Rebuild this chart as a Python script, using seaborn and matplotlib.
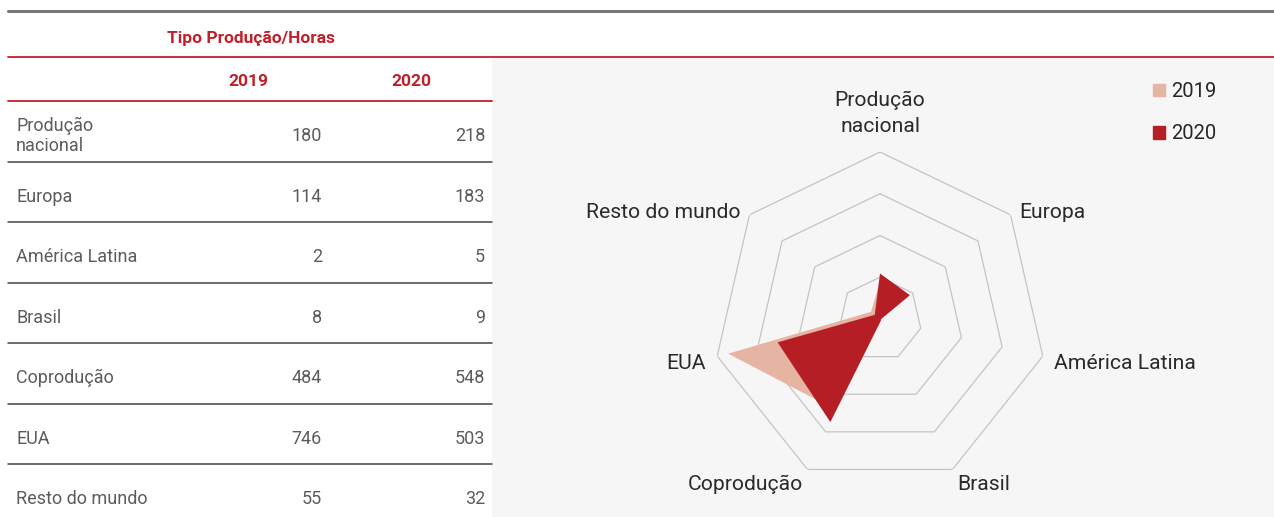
import numpy as np
import seaborn as sns
import matplotlib.pyplot as plt
from matplotlib.patches import Patch, Rectangle
from matplotlib.transforms import ScaledTranslation

# Data
categories = ['Produção\nnacional', 'Europa', 'América Latina', 'Brasil',
              'Coprodução', 'EUA', 'Resto do mundo']
years = ['2019', '2020']
hours_2019 = [180, 114, 2, 8, 484, 746, 55]
hours_2020 = [218, 183, 5, 9, 548, 503, 32]
ring_levels = [200, 400, 600, 800]

# Style
sns.set_theme(style='white')
plt.rcParams['font.family'] = ['Roboto', 'DejaVu Sans']
palette = {'2019': '#e6b4a3', '2020': '#b51e25'}
red = '#c0202b'
grey_txt = '#5c5c5c'

W, H = 1274, 517
fig = plt.figure(figsize=(W / 100, H / 100), dpi=100)

# background axes in pixel coords for the table part
bg = fig.add_axes([0, 0, 1, 1])
bg.set_xlim(0, W)
bg.set_ylim(H, 0)
bg.axis('off')

bg.add_patch(Rectangle((492, 58), W - 492, H - 58, color='#f6f6f6', lw=0, zorder=0))
bg.plot([8, W], [11, 11], color='#777777', lw=2.2)
bg.plot([8, W], [57, 57], color=red, lw=1.3)
bg.plot([8, 492], [101, 101], color=red, lw=1.3)

bg.text(251, 38, 'Tipo Produção/Horas', color=red, fontsize=12.5, fontweight='bold',
        ha='center', va='center')
bg.text(248, 82, years[0], color=red, fontsize=12.5, fontweight='bold', ha='center', va='center')
bg.text(411, 82, years[1], color=red, fontsize=12.5, fontweight='bold', ha='center', va='center')

row_h = 60.5
for i, (cat, v19, v20) in enumerate(zip(categories, hours_2019, hours_2020)):
    y = 106 + row_h * (i + 0.5)
    bg.text(16, y, cat, color=grey_txt, fontsize=13, ha='left', va='center',
            linespacing=1.15)
    bg.text(322, y, str(v19), color=grey_txt, fontsize=13, ha='right', va='center')
    bg.text(485, y, str(v20), color=grey_txt, fontsize=13, ha='right', va='center')
    if i < len(categories) - 1:
        yl = 101 + row_h * (i + 1)
        bg.plot([8, 492], [yl, yl], color='#444444', lw=1.1)

# Radar chart
cx, cy, R = 880, 319, 167
ax = fig.add_axes([(cx - R) / W, (H - cy - R) / H, 2 * R / W, 2 * R / H], projection='polar')
ax.set_theta_offset(np.pi / 2)
ax.set_theta_direction(-1)
ax.set_ylim(0, 800)
ax.patch.set_visible(False)
ax.spines['polar'].set_visible(False)
ax.grid(False)
ax.set_xticks([])
ax.set_yticks([])

n = len(categories)
angles = np.linspace(0, 2 * np.pi, n, endpoint=False)
closed = np.append(angles, angles[0])

for lvl in ring_levels:
    ax.plot(closed, [lvl] * (n + 1), color='#c4c4c4', lw=0.9, zorder=1)

for year, vals in zip(years, [hours_2019, hours_2020]):
    ax.fill(closed, vals + vals[:1], color=palette[year], lw=0, zorder=2)

# nudge labels a few px down
shift = ax.transData + ScaledTranslation(0, -0.045, fig.dpi_scale_trans)
for ang, cat in zip(angles, categories):
    if ang == 0:
        ax.text(ang, 1005, cat, ha='center', va='center', fontsize=15.2,
                color='#2a2a2a', linespacing=1.45, transform=shift)
    else:
        ha = 'left' if ang < np.pi else 'right'
        ax.text(ang, 855, cat.replace('\n', ' '), ha=ha, va='center', fontsize=15.2,
                color='#2a2a2a', transform=shift)

handles = [Patch(color=palette[y], label=y) for y in years]
fig.legend(handles=handles, loc='upper left', bbox_to_anchor=(1143 / W, 1 - 72 / H),
           frameon=False, fontsize=14.5, handlelength=0.6, handleheight=0.6,
           handletextpad=0.3, labelspacing=1.15, borderpad=0)

fig.savefig('out.png', dpi=100)
